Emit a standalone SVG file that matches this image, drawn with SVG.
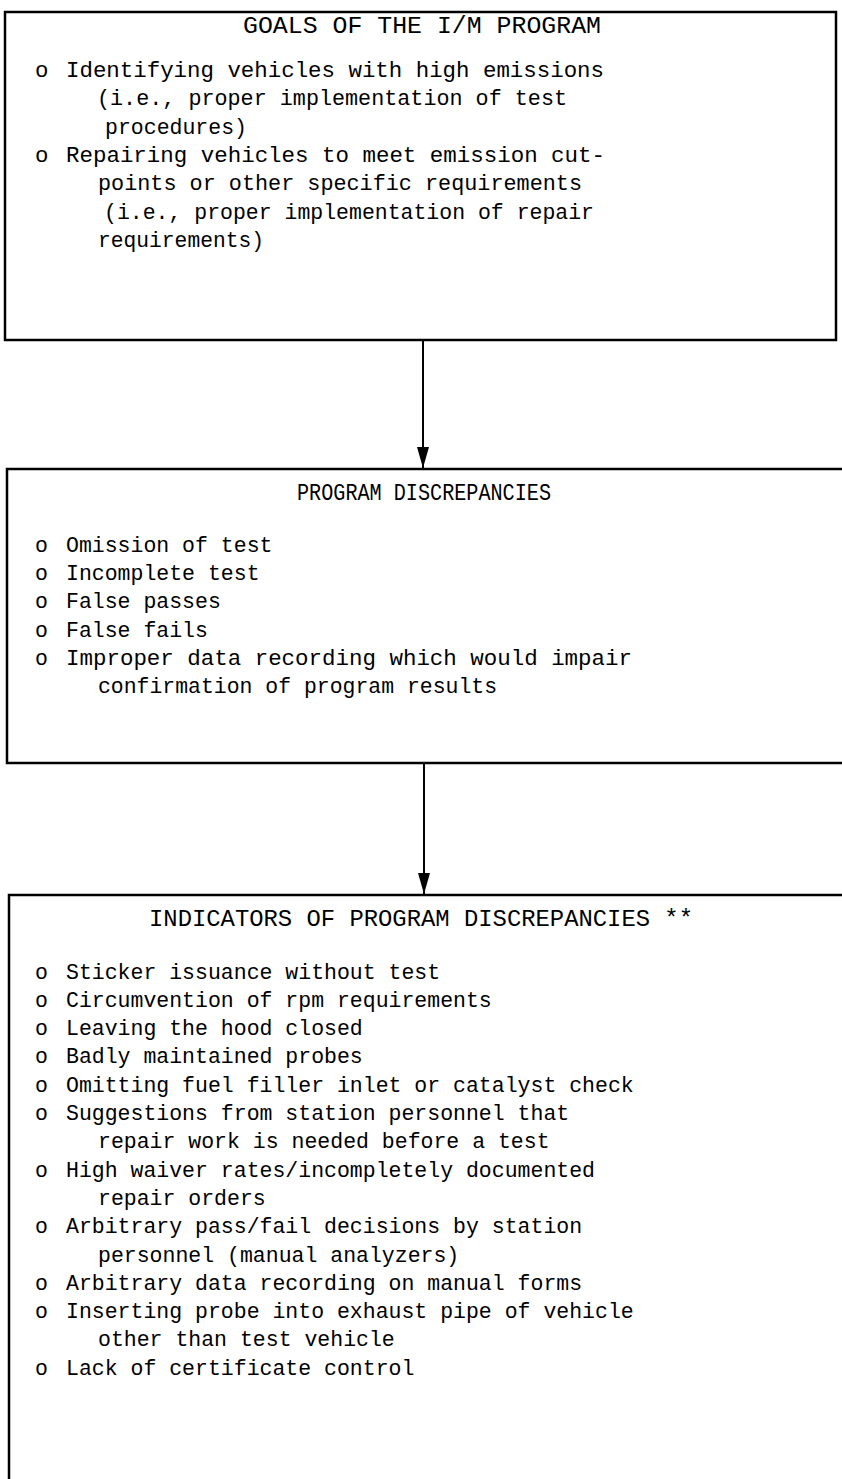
<svg xmlns="http://www.w3.org/2000/svg" width="842" height="1479" viewBox="0 0 842 1479">
<defs>
<style>
.box{fill:none;stroke:#000;stroke-width:2.5}
.t{font-family:"Liberation Mono","Courier New",monospace;font-size:21.5px;fill:#000}
.t1{font-family:"Liberation Mono","Courier New",monospace;font-size:22.4px;fill:#000}
.h{font-family:"Liberation Mono","Courier New",monospace;font-size:23px;fill:#000}
.c{stroke:#000;stroke-width:2;fill:none}
</style>
<marker id="ah" markerUnits="userSpaceOnUse" markerWidth="21" markerHeight="12" viewBox="0 0 21 12" refX="21" refY="6" orient="auto">
<path d="M0,0 L21,6 L0,12 Z" fill="#000"/>
</marker>
</defs>
<g id="goals">
<rect class="box" x="5" y="12" width="831" height="328"/>
<text class="h" x="243" y="33" textLength="358" lengthAdjust="spacingAndGlyphs">GOALS OF THE I/M PROGRAM</text>
<text class="t1" x="35" y="77">o</text>
<text class="t1" x="66" y="77" textLength="538" lengthAdjust="spacingAndGlyphs">Identifying vehicles with high emissions</text>
<text class="t1" x="97" y="105" textLength="470" lengthAdjust="spacingAndGlyphs">(i.e., proper implementation of test</text>
<text class="t1" x="105" y="134" textLength="142" lengthAdjust="spacingAndGlyphs">procedures)</text>
<text class="t1" x="35" y="162">o</text>
<text class="t1" x="66" y="162" textLength="539" lengthAdjust="spacingAndGlyphs">Repairing vehicles to meet emission cut-</text>
<text class="t1" x="98" y="190" textLength="484" lengthAdjust="spacingAndGlyphs">points or other specific requirements</text>
<text class="t1" x="104" y="219" textLength="490" lengthAdjust="spacingAndGlyphs">(i.e., proper implementation of repair</text>
<text class="t1" x="98" y="247" textLength="166" lengthAdjust="spacingAndGlyphs">requirements)</text>
</g>
<g id="discrepancies">
<path class="box" d="M850,469 L7,469 L7,763 L850,763"/>
<text class="h" x="297" y="500" textLength="254" lengthAdjust="spacingAndGlyphs">PROGRAM DISCREPANCIES</text>
<text class="t" x="35" y="552">o</text>
<text class="t" x="66" y="552">Omission of test</text>
<text class="t" x="35" y="580">o</text>
<text class="t" x="66" y="580">Incomplete test</text>
<text class="t" x="35" y="608">o</text>
<text class="t" x="66" y="608">False passes</text>
<text class="t" x="35" y="637">o</text>
<text class="t" x="66" y="637">False fails</text>
<text class="t" x="35" y="665">o</text>
<text class="t" x="66" y="665" textLength="566" lengthAdjust="spacingAndGlyphs">Improper data recording which would impair</text>
<text class="t" x="98" y="693" textLength="399" lengthAdjust="spacingAndGlyphs">confirmation of program results</text>
</g>
<g id="indicators">
<path class="box" d="M850,895 L9,895 L9,1490"/>
<text class="h" x="149" y="926" textLength="544" lengthAdjust="spacingAndGlyphs">INDICATORS OF PROGRAM DISCREPANCIES **</text>
<text class="t" x="35" y="979">o</text>
<text class="t" x="66" y="979">Sticker issuance without test</text>
<text class="t" x="35" y="1007">o</text>
<text class="t" x="66" y="1007">Circumvention of rpm requirements</text>
<text class="t" x="35" y="1035">o</text>
<text class="t" x="66" y="1035">Leaving the hood closed</text>
<text class="t" x="35" y="1063">o</text>
<text class="t" x="66" y="1063">Badly maintained probes</text>
<text class="t" x="35" y="1092">o</text>
<text class="t" x="66" y="1092">Omitting fuel filler inlet or catalyst check</text>
<text class="t" x="35" y="1120">o</text>
<text class="t" x="66" y="1120">Suggestions from station personnel that</text>
<text class="t" x="98" y="1148">repair work is needed before a test</text>
<text class="t" x="35" y="1177">o</text>
<text class="t" x="66" y="1177">High waiver rates/incompletely documented</text>
<text class="t" x="98" y="1205">repair orders</text>
<text class="t" x="35" y="1233">o</text>
<text class="t" x="66" y="1233">Arbitrary pass/fail decisions by station</text>
<text class="t" x="98" y="1262">personnel (manual analyzers)</text>
<text class="t" x="35" y="1290">o</text>
<text class="t" x="66" y="1290">Arbitrary data recording on manual forms</text>
<text class="t" x="35" y="1318">o</text>
<text class="t" x="66" y="1318">Inserting probe into exhaust pipe of vehicle</text>
<text class="t" x="98" y="1346">other than test vehicle</text>
<text class="t" x="35" y="1375">o</text>
<text class="t" x="66" y="1375">Lack of certificate control</text>
</g>
<g id="connectors">
<line class="c" x1="423" y1="340" x2="423" y2="468" marker-end="url(#ah)"/>
<line class="c" x1="424" y1="763" x2="424" y2="894" marker-end="url(#ah)"/>
</g>
</svg>
